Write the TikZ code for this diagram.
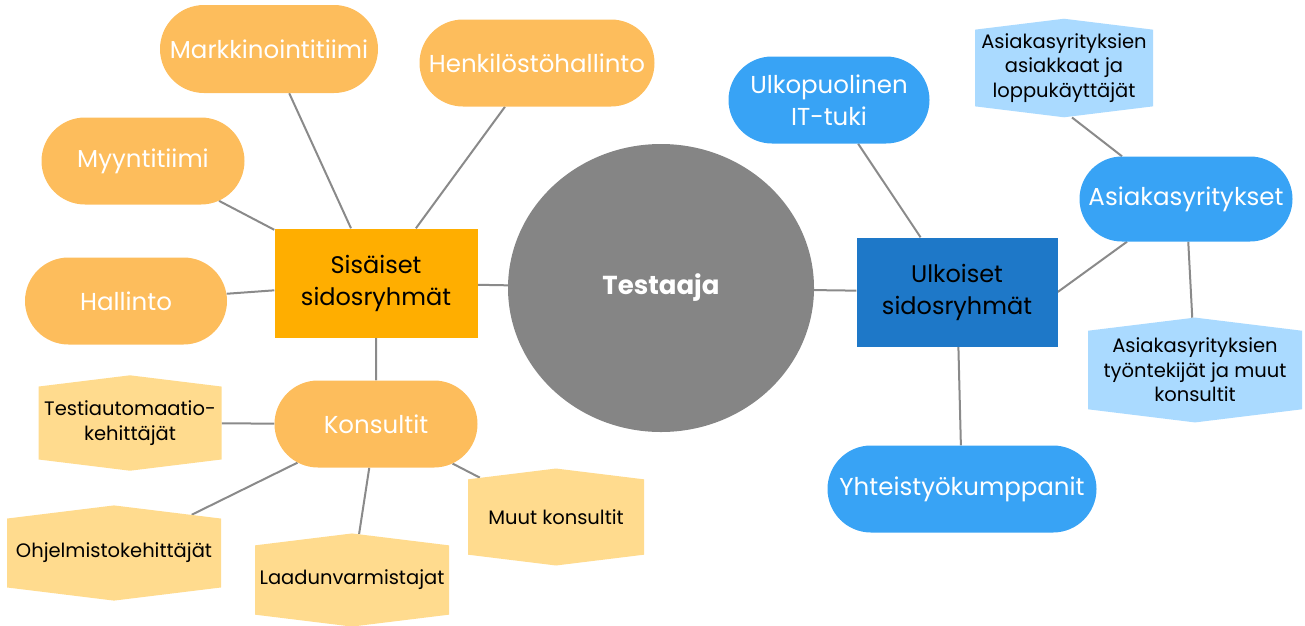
\documentclass[tikz,border=0pt]{standalone}
\usepackage{fontspec}
\setmainfont{Poppins}
\usetikzlibrary{shapes.geometric,shapes.misc,shapes.symbols,backgrounds,calc}
\definecolor{pillor}{HTML}{FDBD5C}
\definecolor{rector}{HTML}{FFAE00}
\definecolor{hexor}{HTML}{FFDB8E}
\definecolor{pillbl}{HTML}{38A3F5}
\definecolor{rectbl}{HTML}{1E78C8}
\definecolor{hexbl}{HTML}{AADAFF}
\definecolor{circgr}{HTML}{858585}
\definecolor{edgegr}{HTML}{8A8A8A}
\tikzset{
  pill/.style={rounded rectangle, fill=pillor, text=white, font=\fontsize{24.5}{32}\selectfont, minimum height=87pt, inner sep=0pt},
  bpill/.style={pill, fill=pillbl},
  hubbox/.style={rectangle, fill=rector, text=black, font=\fontsize{24}{32}\selectfont, minimum width=203pt, minimum height=109pt, align=center, inner sep=0pt},
  hexnode/.style={signal, signal to=north and south, signal pointer angle=166, fill=hexor, text=black, font=\fontsize{19.5}{24.5}\selectfont, align=center, inner sep=0pt},
  bhex/.style={hexnode, fill=hexbl},
  edge/.style={draw=edgegr, line width=2pt}
}
\begin{document}
\begin{tikzpicture}[x=1pt,y=1pt]
\useasboundingbox (0,0) rectangle (1305,-625);
% center
\node[ellipse, fill=circgr, minimum width=306pt, minimum height=288pt, text=white, font=\fontsize{26}{30}\selectfont\bfseries] (test) at (661,-288) {Testaaja};
% internal
\node[hubbox] (sis) at (376,-283) {Sisäiset\\sidosryhmät};
\node[pill, minimum width=218pt, minimum height=88pt] (mark) at (269,-49) {Markkinointitiimi};
\node[pill, minimum width=235pt] (henk) at (537,-63) {Henkilöstöhallinto};
\node[pill, minimum width=203pt] (myyn) at (143,-161) {Myyntitiimi};
\node[pill, minimum width=202pt] (hall) at (126,-301) {Hallinto};
\node[pill, minimum width=203pt] (kons) at (376,-424) {Konsultit};
\node[hexnode, minimum width=183pt, minimum height=94pt] (ta) at (130,-423) {Testiautomaatio-\\kehittäjät};
\node[hexnode, minimum width=214pt, minimum height=93pt] (ohj) at (114,-553) {Ohjelmistokehittäjät};
\node[hexnode, minimum width=194pt, minimum height=92pt] (laa) at (352,-580) {Laadunvarmistajat};
\node[hexnode, minimum width=176pt, minimum height=92pt] (muu) at (556,-517) {Muut konsultit};
% external
\node[hubbox, fill=rectbl, minimum width=201pt] (ulk) at (957,-292) {Ulkoiset\\sidosryhmät};
\node[bpill, minimum width=201pt, align=center] (it) at (829,-100) {Ulkopuolinen\\IT-tuki};
\node[bpill, minimum width=213pt, minimum height=85pt] (asy) at (1186,-199) {Asiakasyritykset};
\node[bpill, minimum width=269pt] (yht) at (962,-489) {Yhteistyökumppanit};
\node[bhex, minimum width=178pt, minimum height=97pt] (asa) at (1064,-68) {Asiakasyrityksien\\asiakkaat ja\\loppukäyttäjät};
\node[bhex, minimum width=214pt, minimum height=101pt] (asty) at (1195,-370) {Asiakasyrityksien\\työntekijät ja muut\\konsultit};
\begin{scope}[on background layer]
\draw[edge] (sis) -- (test);
\draw[edge] (test) -- (ulk);
\draw[edge] (mark) -- (sis);
\draw[edge] (henk) -- (sis);
\draw[edge] (myyn) -- (sis);
\draw[edge] (hall) -- (sis);
\draw[edge] (kons) -- (sis);
\draw[edge] (ta) -- (kons);
\draw[edge] (ohj) -- (kons);
\draw[edge] (laa) -- (kons);
\draw[edge] (muu) -- (kons);
\draw[edge] (it) -- (ulk);
\draw[edge] (ulk.east) -- ($(asy.south)+(-59,0)$);
\draw[edge] ($(asa.south)+(8,0)$) -- ($(asy.north)+(-64,0)$);
\draw[edge] (asty) -- (asy);
\draw[edge] (yht) -- (ulk);
\end{scope}
\end{tikzpicture}
\end{document}
